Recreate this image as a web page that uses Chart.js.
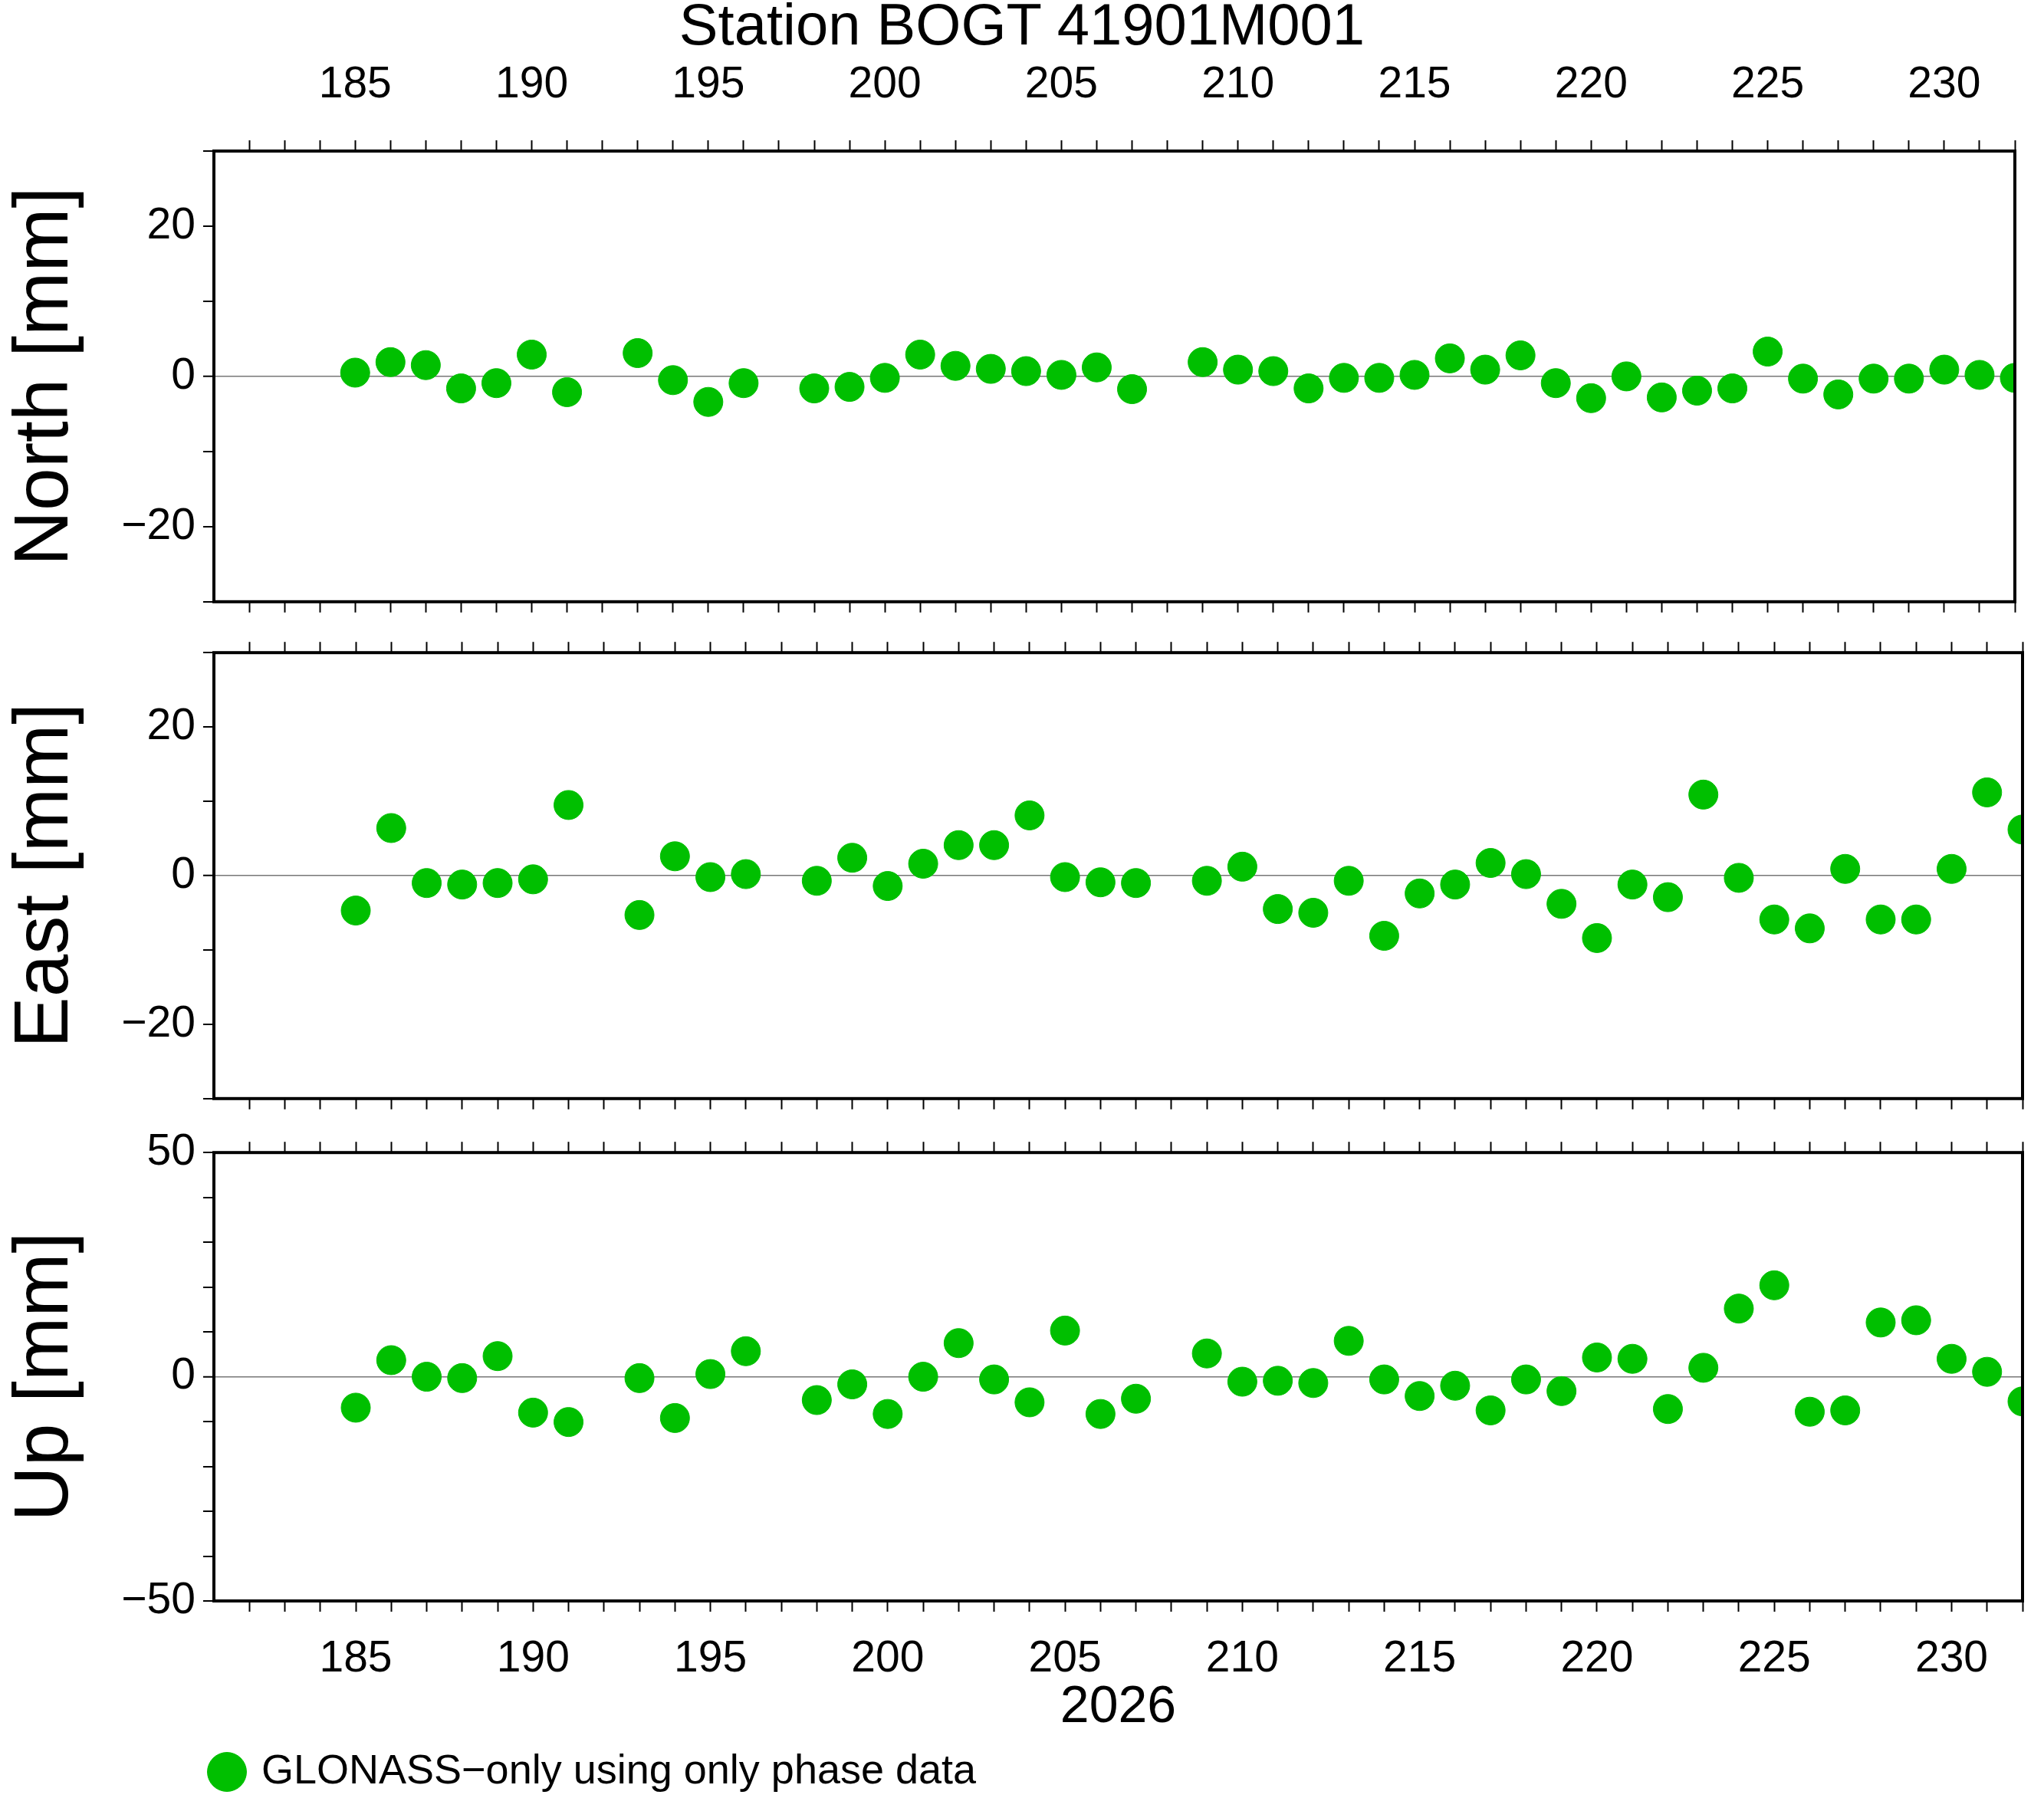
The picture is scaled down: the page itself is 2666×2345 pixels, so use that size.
<!DOCTYPE html>
<html><head><meta charset="utf-8">
<script src="https://cdn.jsdelivr.net/npm/chart.js@4.4.1/dist/chart.umd.min.js"></script>
<style>
body{margin:0;background:#fff;width:2666px;height:2345px;position:relative;overflow:hidden;font-family:"Liberation Sans",Arial,sans-serif}
.box{position:absolute;left:0;width:2666px}
#title{position:absolute;top:0;left:0;width:2666px;text-align:center;font-size:76px;line-height:64px;color:#000}
</style></head><body>
<div id="title">Station BOGT 41901M001</div>
<div class="box" style="top:0;height:829px"><canvas id="cN"></canvas></div>
<div class="box" style="top:807px;height:670px"><canvas id="cE"></canvas></div>
<div class="box" style="top:1459px;height:889px"><canvas id="cU"></canvas></div>
<script>
const days=[185,186,187,188,189,190,191,193,194,195,196,198,199,200,201,202,203,204,205,206,207,209,210,211,212,213,214,215,216,217,218,219,220,221,222,223,224,225,226,227,228,229,230,231,232];
const north=[0.5,1.9,1.5,-1.6,-0.9,2.9,-2.1,3.1,-0.5,-3.4,-0.9,-1.6,-1.4,-0.2,2.9,1.4,1.0,0.7,0.2,1.2,-1.7,1.9,0.9,0.7,-1.6,-0.2,-0.2,0.2,2.4,0.9,2.8,-0.9,-2.9,0,-2.8,-1.9,-1.6,3.3,-0.3,-2.4,-0.3,-0.3,0.9,0.2,-0.2];
const east=[-4.7,6.4,-1.0,-1.2,-1.0,-0.5,9.5,-5.3,2.6,-0.2,0.2,-0.7,2.4,-1.4,1.6,4.1,4.1,8.1,-0.2,-0.9,-1.0,-0.7,1.2,-4.5,-5.0,-0.7,-8.1,-2.4,-1.2,1.7,0.2,-3.8,-8.4,-1.2,-2.9,10.9,-0.3,-5.9,-7.1,0.9,-5.9,-5.9,0.9,11.2,6.2];
const up=[-6.9,3.7,0,-0.3,4.6,-8.0,-10.1,-0.3,-9.2,0.6,5.7,-5.2,-1.7,-8.3,0,7.5,-0.6,-5.7,10.3,-8.3,-4.9,5.2,-1.1,-0.9,-1.4,8.0,-0.6,-4.3,-2.0,-7.5,-0.6,-3.2,4.3,4.0,-7.2,2.0,15.2,20.4,-7.8,-7.5,12.1,12.6,4.0,1.1,-5.5];
const xMin=181, xMax=232;
const seriesLabel='GLONASS\u2212only using only phase data';
const green='#00bf00';
const tickFont={family:'"Liberation Sans", Arial, sans-serif',size:57};
Chart.defaults.color='#000';

const frame={id:'frame',
  afterLayout(c){if(c.legend&&c.options.plugins.legend.display){c.legend.left+=262;}},
  afterDraw(c){const a=c.chartArea,x=c.ctx;x.save();x.strokeStyle='#000';x.lineWidth=4;x.strokeRect(a.left,a.top,a.right-a.left,a.bottom-a.top);x.restore();}};

function mk(id,vals,name,lim,yStep,yLab,topLab,botLab,topH,botH,legend){
  const fixH=h=>function(s){s.height=h;};
  const xAx=(pos,show,h,title)=>({type:'linear',position:pos,min:xMin,max:xMax,
    afterFit:fixH(h),
    afterBuildTicks:s=>{s.ticks=[];for(let v=xMin+1;v<=xMax;v++)s.ticks.push({value:v});},
    grid:{drawOnChartArea:false,drawTicks:true,tickLength:14,tickColor:'#000',tickWidth:2,color:'#000'},
    border:{display:false},
    ticks:{display:show,padding:pos==='top'?38:28,font:tickFont,maxRotation:0,autoSkip:false,callback:v=>v%5===0?String(v):''},
    title:{display:!!title,text:title||'',font:{...tickFont,size:68},padding:{top:0,bottom:0}}});
  return new Chart(document.getElementById(id),{
    type:'scatter',
    data:{datasets:[{label:seriesLabel,data:days.map((d,i)=>({x:d,y:vals[i]})),backgroundColor:green,borderColor:green,pointRadius:19,pointHoverRadius:19}]},
    options:{responsive:true,maintainAspectRatio:false,animation:false,
      layout:{padding:{left:0,right:28,top:0,bottom:0}},
      plugins:{title:{display:false},tooltip:{enabled:false},
        legend:{display:!!legend,position:'bottom',align:'start',
          labels:{usePointStyle:true,pointStyle:'circle',font:{...tickFont,size:54},padding:16,boxWidth:36,boxHeight:36,color:'#000'}}},
      scales:{
        x:xAx('bottom',botLab,botH,botLab?'2026':null),
        x2:xAx('top',topLab,topH,null),
        y:{min:-lim,max:lim,afterFit:s=>{s.width=279;},
          afterBuildTicks:s=>{s.ticks=[];for(let v=-lim;v<=lim;v+=yStep)s.ticks.push({value:v});},
          grid:{drawTicks:true,tickLength:14,tickColor:'#000',tickWidth:2,lineWidth:c=>c.tick&&c.tick.value===0?1.5:0,color:'#777'},
          border:{display:false},
          ticks:{font:tickFont,padding:10,autoSkip:false,callback:v=>v%yLab===0?(v<0?'\u2212'+(-v):String(v)):''},
          title:{display:true,text:name,font:{...tickFont,size:100},padding:{top:0,bottom:0}}}
      }},
    plugins:[frame]});
}
mk('cN',north,'North [mm]',30,10,20,true,false,197,20,false);
mk('cE',east,'East [mm]',30,10,20,false,false,20,20,false);
mk('cU',up,'Up [mm]',50,10,50,false,true,20,180,true);
</script></body></html>
